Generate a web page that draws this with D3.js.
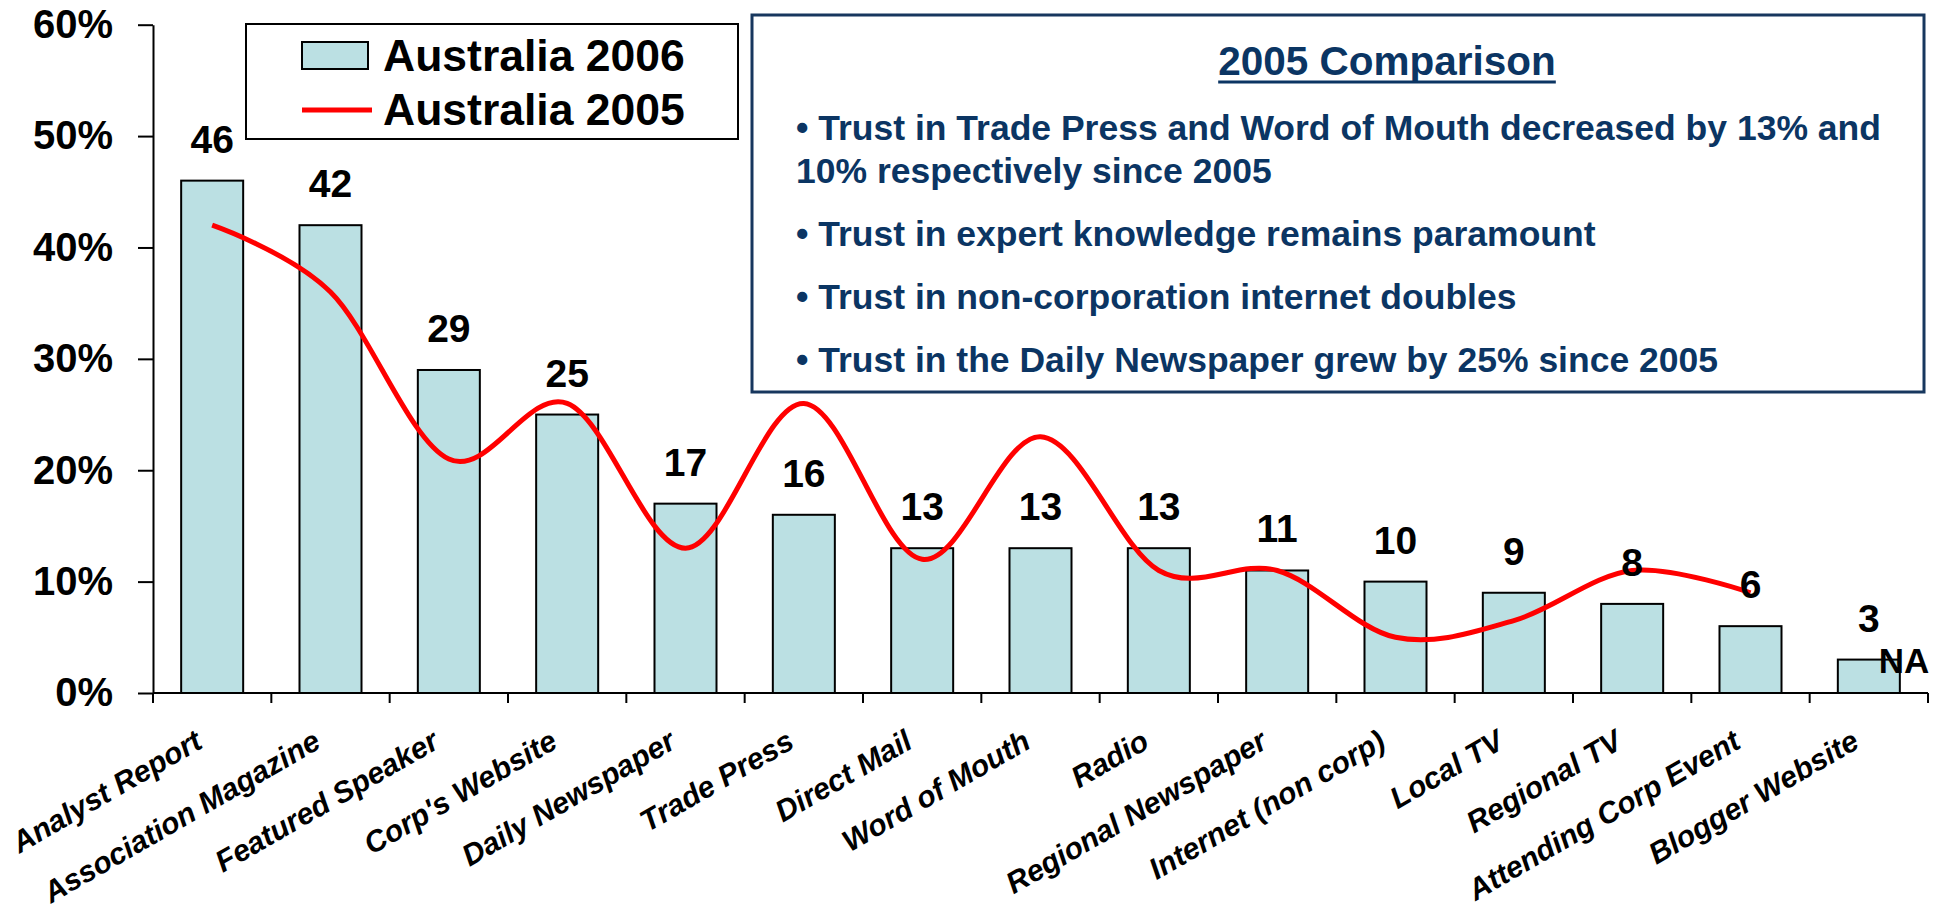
<!DOCTYPE html>
<html>
<head>
<meta charset="utf-8">
<title>Trust in information sources - Australia 2006 vs 2005</title>
<script src="https://d3js.org/d3.v7.min.js"></script>
<style>
  body { margin: 0; background: #fff; }
  svg text { font-family: "Liberation Sans", Arial, sans-serif; font-weight: bold; }
</style>
</head>
<body>
<div id="chart"></div>
<script>
// chart data
const categories = ["Analyst Report", "Association Magazine", "Featured Speaker", "Corp's Website",
  "Daily Newspaper", "Trade Press", "Direct Mail", "Word of Mouth", "Radio", "Regional Newspaper",
  "Internet (non corp)", "Local TV", "Regional TV", "Attending Corp Event", "Blogger Website"];
const values2006 = [46, 42, 29, 25, 17, 16, 13, 13, 13, 11, 10, 9, 8, 6, 3];
const values2005 = [42, 36, 21, 26, 13, 26, 12, 23, 11, 11, 5, 6.5, 11, 9, null];
const yTicks = [0, 10, 20, 30, 40, 50, 60];
const seriesNames = ["Australia 2006", "Australia 2005"];
const noteTitle = "2005 Comparison";
const notes = [
  ["• Trust in Trade Press and Word of Mouth decreased by 13% and", "10% respectively since 2005"],
  ["• Trust in expert knowledge remains paramount"],
  ["• Trust in non-corporation internet doubles"],
  ["• Trust in the Daily Newspaper grew by 25% since 2005"]
];

const width = 1938, height = 910;
const plot = { left: 153, right: 1928, top: 24.7, bottom: 693 };
const barFill = "#bbe0e3";
const navy = "#0b3563";

const svg = d3.select("#chart").append("svg")
  .attr("width", width)
  .attr("height", height);

// scales
const x = d3.scaleBand()
  .domain(categories)
  .range([plot.left, plot.right])
  .paddingInner(0.476)
  .paddingOuter(0.238);
const xEdge = d3.scaleBand().domain(categories).range([plot.left, plot.right]);
const y = d3.scaleLinear().domain([0, 60]).range([plot.bottom, plot.top]);
const center = c => x(c) + x.bandwidth() / 2;

// y axis
const yAxis = svg.append("g")
  .attr("transform", `translate(${plot.left},0)`)
  .call(d3.axisLeft(y).tickValues(yTicks).tickSize(15).tickSizeOuter(0)
    .tickPadding(25).tickFormat(d => d + "%"));
yAxis.selectAll("path, line").attr("stroke", "#000").attr("stroke-width", 2);
yAxis.selectAll("text").attr("font-size", 40).attr("fill", "#000")
  .attr("font-family", null);

// bars
svg.selectAll(".bar")
  .data(categories)
  .join("rect")
  .attr("class", "bar")
  .attr("x", c => x(c))
  .attr("width", x.bandwidth())
  .attr("y", (c, i) => y(values2006[i]))
  .attr("height", (c, i) => y(0) - y(values2006[i]))
  .attr("fill", barFill)
  .attr("stroke", "#000")
  .attr("stroke-width", 2);

// x axis: line and ticks between categories
svg.append("line")
  .attr("x1", plot.left).attr("x2", plot.right)
  .attr("y1", y(0)).attr("y2", y(0))
  .attr("stroke", "#000").attr("stroke-width", 2);
const edges = categories.map(c => xEdge(c)).concat([plot.right]);
svg.selectAll(".xtick")
  .data(edges)
  .join("line")
  .attr("class", "xtick")
  .attr("x1", d => d).attr("x2", d => d)
  .attr("y1", y(0)).attr("y2", y(0) + 10)
  .attr("stroke", "#000").attr("stroke-width", 2);

svg.selectAll(".xlabel")
  .data(categories)
  .join("text")
  .attr("class", "xlabel")
  .attr("text-anchor", "end")
  .attr("font-size", 30)
  .attr("font-style", "italic")
  .attr("transform", c => `translate(${center(c) - 8},${y(0) + 54}) rotate(-30)`)
  .text(c => c);

// 2005 line (smoothed like the Excel original)
const linePts = categories.map((c, i) => ({ c, v: values2005[i] })).filter(d => d.v != null);
svg.append("path")
  .datum(linePts)
  .attr("fill", "none")
  .attr("stroke", "#ff0000")
  .attr("stroke-width", 5)
  .attr("d", d3.line()
    .x(d => center(d.c))
    .y(d => y(d.v))
    .curve(d3.curveCardinal.tension(0)));

// value labels above bars
svg.selectAll(".vlabel")
  .data(categories)
  .join("text")
  .attr("class", "vlabel")
  .attr("text-anchor", "middle")
  .attr("font-size", 39)
  .attr("x", c => center(c))
  .attr("y", (c, i) => y(values2006[i]) - 28)
  .text((c, i) => values2006[i]);

// missing 2005 values
svg.selectAll(".na")
  .data(categories.filter((c, i) => values2005[i] == null))
  .join("text")
  .attr("class", "na")
  .attr("font-size", 35)
  .attr("x", c => center(c) + 10)
  .attr("y", y(0) - 20)
  .text("NA");

// legend
const lg = svg.append("g");
lg.append("rect").attr("x", 246).attr("y", 24).attr("width", 492).attr("height", 115)
  .attr("fill", "#fff").attr("stroke", "#000").attr("stroke-width", 2);
lg.append("rect").attr("x", 302).attr("y", 42).attr("width", 66).attr("height", 27)
  .attr("fill", barFill).attr("stroke", "#000").attr("stroke-width", 2);
lg.append("line").attr("x1", 302).attr("x2", 372).attr("y1", 110).attr("y2", 110)
  .attr("stroke", "#ff0000").attr("stroke-width", 5);
lg.selectAll("text")
  .data(seriesNames)
  .join("text")
  .attr("x", 383)
  .attr("y", (d, i) => 71 + i * 54)
  .attr("font-size", 44.5)
  .text(d => d);

// comparison note box
const box = svg.append("g");
box.append("rect").attr("x", 752).attr("y", 15).attr("width", 1172).attr("height", 377)
  .attr("fill", "#fff").attr("stroke", "#17375e").attr("stroke-width", 3);
const title = box.append("text")
  .attr("x", 1387).attr("y", 75)
  .attr("text-anchor", "middle")
  .attr("font-size", 40.5)
  .attr("fill", navy)
  .text(noteTitle);
const tw = title.node().getComputedTextLength();
box.append("line")
  .attr("x1", 1387 - tw / 2).attr("x2", 1387 + tw / 2)
  .attr("y1", 82).attr("y2", 82)
  .attr("stroke", navy).attr("stroke-width", 3);

let yy = 140;
notes.forEach(lines => {
  lines.forEach(line => {
    box.append("text")
      .attr("x", 796).attr("y", yy)
      .attr("font-size", 35.5)
      .attr("fill", navy)
      .text(line);
    yy += 43;
  });
  yy += 20;
});
</script>
</body>
</html>
